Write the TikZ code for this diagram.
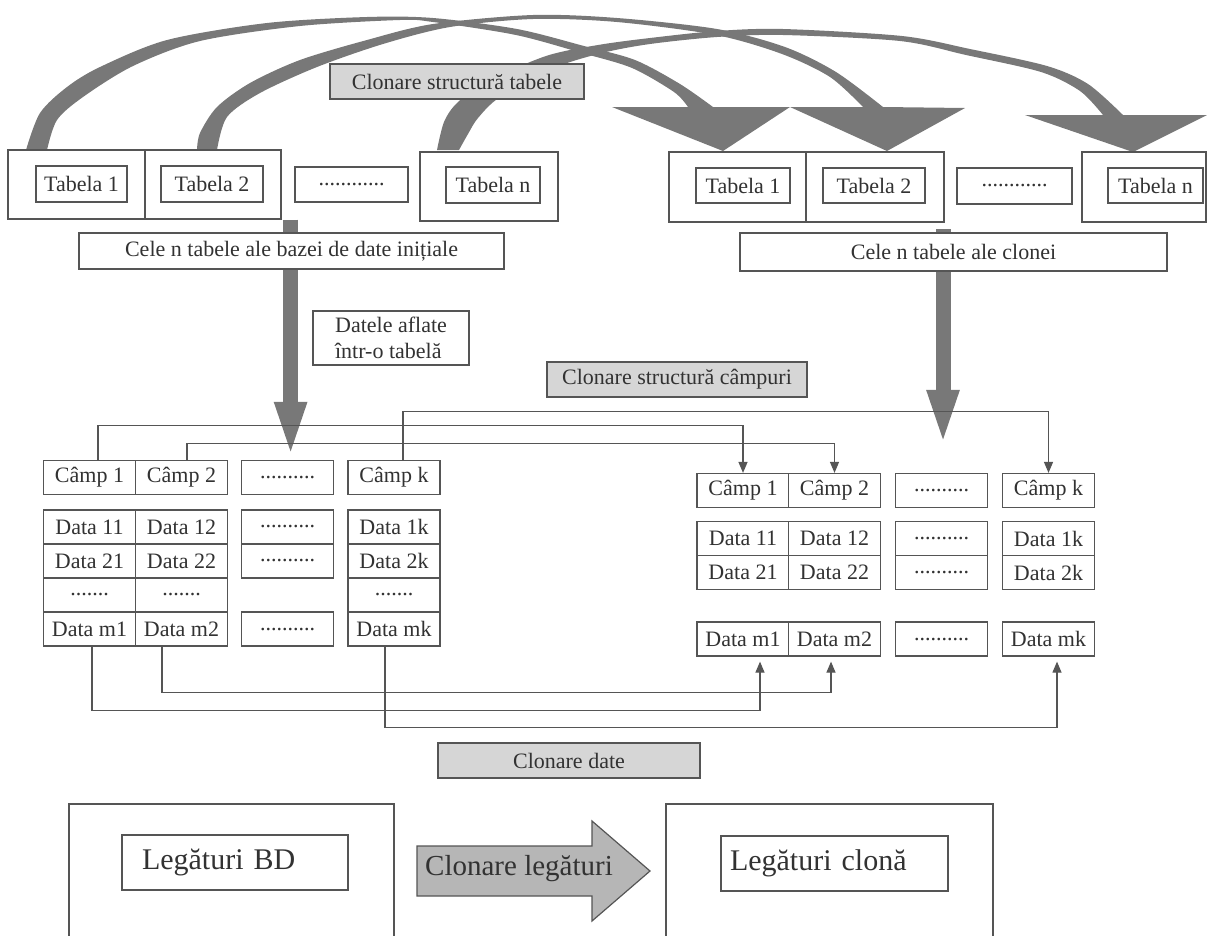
\documentclass[tikz,border=0pt]{standalone}
\usepackage{fontspec}
\setmainfont{Liberation Serif}
\usetikzlibrary{arrows.meta,backgrounds}
\definecolor{cloneLine}{RGB}{85,85,85}
\definecolor{cloneText}{RGB}{50,50,50}
\definecolor{cloneShade}{RGB}{214,214,214}
\definecolor{cloneArc}{RGB}{120,120,120}

\begin{document}
\begin{tikzpicture}[
  x=1pt, y=-1pt,
  box/.style={
    draw=cloneLine,
    line width=1.2pt,
    fill=white,
    inner sep=0pt,
    text=cloneText,
    font=\fontsize{22}{26}\selectfont
  },
  shadebox/.style={box, fill=cloneShade},
  cell/.style={box, minimum width=92pt, minimum height=34pt},
  link/.style={draw=cloneLine, line width=1.2pt, -{Triangle[length=11pt,width=9pt]}},
  fatarrow/.style={draw=cloneArc, line width=15pt, -{Triangle[length=58pt,width=28pt]}},
  bigarc/.style={fill=cloneArc}
]
  \useasboundingbox (0,0) rectangle (1207,935);

  % tables of the source database
  \node[box, minimum width=137pt, minimum height=69pt] (lt1) at (76.5,184.5) {};
  \node[box, minimum width=91pt, minimum height=36pt] (li1) at (81.5,184) {Tabela 1};
  \node[box, minimum width=136pt, minimum height=69pt] (lt2) at (213,184.5) {};
  \node[box, minimum width=102pt, minimum height=36pt] (li2) at (212,184) {Tabela 2};
  \node[box, minimum width=113pt, minimum height=35pt] (ldots) at (351.5,184.5) {............};
  \node[box, minimum width=138pt, minimum height=69pt] (ltn) at (489,186.5) {};
  \node[box, minimum width=94pt, minimum height=36pt] (lin) at (493,185) {Tabela n};
  \node[box, minimum width=425pt, minimum height=36pt] (lcele) at (291.5,251)
    {Cele n tabele ale bazei de date inițiale};

  % tables of the clone
  \node[box, minimum width=137pt, minimum height=70pt] (rt1) at (737.5,187) {};
  \node[box, minimum width=94pt, minimum height=35pt] (ri1) at (743,185.5) {Tabela 1};
  \node[box, minimum width=138pt, minimum height=70pt] (rt2) at (875,187) {};
  \node[box, minimum width=102pt, minimum height=35pt] (ri2) at (874,185.5) {Tabela 2};
  \node[box, minimum width=115pt, minimum height=36pt] (rdots) at (1014.5,186) {............};
  \node[box, minimum width=124pt, minimum height=70pt] (rtn) at (1144,187) {};
  \node[box, minimum width=95pt, minimum height=35pt] (rin) at (1155.5,185.5) {Tabela n};
  \node[box, minimum width=427pt, minimum height=38pt] (rcele) at (953.5,252)
    {Cele n tabele ale clonei};

  \node[box, minimum width=156pt, minimum height=54pt, align=left] (dat) at (391,338)
    {Datele aflate\\într-o tabelă};
  \node[shadebox, minimum width=260pt, minimum height=35pt] (csc) at (677,379.5)
    {Clonare structură câmpuri};

  % fields and data of the source table
  \node[cell] (lh1) at (89.5,477.5) {Câmp 1};
  \node[cell] (lh2) at (181.5,477.5) {Câmp 2};
  \node[cell] (lh3) at (287.5,477.5) {..........};
  \node[cell] (lhk) at (394,477.5) {Câmp k};
  \node[cell] (l11) at (89.5,527) {Data 11};
  \node[cell] (l12) at (181.5,527) {Data 12};
  \node[cell] (l13) at (287.5,527) {..........};
  \node[cell] (l1k) at (394,527) {Data 1k};
  \node[cell] (l21) at (89.5,561) {Data 21};
  \node[cell] (l22) at (181.5,561) {Data 22};
  \node[cell] (l23) at (287.5,561) {..........};
  \node[cell] (l2k) at (394,561) {Data 2k};
  \node[cell] (l31) at (89.5,595) {.......};
  \node[cell] (l32) at (181.5,595) {.......};
  \node[cell] (l3k) at (394,595) {.......};
  \node[cell] (lm1) at (89.5,629) {Data m1};
  \node[cell] (lm2) at (181.5,629) {Data m2};
  \node[cell] (lm3) at (287.5,629) {..........};
  \node[cell] (lmk) at (394,629) {Data mk};

  % fields and data of the clone table
  \node[cell] (rh1) at (743,490.5) {Câmp 1};
  \node[cell] (rh2) at (834.5,490.5) {Câmp 2};
  \node[cell] (rh3) at (941.5,490.5) {..........};
  \node[cell] (rhk) at (1048.5,490.5) {Câmp k};
  \node[cell] (r11) at (743,538.5) {Data 11};
  \node[cell] (r12) at (834.5,538.5) {Data 12};
  \node[cell] (r13) at (941.5,538.5) {..........};
  \node[cell] (r1k) at (1048.5,538.5) {Data 1k};
  \node[cell] (r21) at (743,572.5) {Data 21};
  \node[cell] (r22) at (834.5,572.5) {Data 22};
  \node[cell] (r23) at (941.5,572.5) {..........};
  \node[cell] (r2k) at (1048.5,572.5) {Data 2k};
  \node[cell] (rm1) at (743,639) {Data m1};
  \node[cell] (rm2) at (834.5,639) {Data m2};
  \node[cell] (rm3) at (941.5,639) {..........};
  \node[cell] (rmk) at (1048.5,639) {Data mk};

  \node[shadebox, minimum width=262pt, minimum height=35pt] (cdt) at (569,760.5) {Clonare date};

  % links
  \node[box, minimum width=325pt, minimum height=170pt] (lbig) at (231.5,889) {};
  \node[box, minimum width=226pt, minimum height=55pt, text width=186pt, align=left,
    font=\fontsize{30}{34}\selectfont] (lbd) at (235,862.5) {Legături BD};
  \node[box, minimum width=327pt, minimum height=170pt] (rbig) at (829.5,889) {};
  \node[box, minimum width=227pt, minimum height=55pt, text width=209pt, align=left,
    font=\fontsize{30}{34}\selectfont] (rlc) at (834.5,863.5) {Legături clonă};
  \filldraw[fill=cloneShade!85!black, draw=cloneLine, line width=1.2pt]
    (417,846) -- (592,846) -- (592,821) -- (650,871) -- (592,921) -- (592,896) -- (417,896) -- cycle;
  \node[text=cloneText, font=\fontsize{29}{33}\selectfont, anchor=west, inner sep=0pt] (clg)
    at (425,869) {Clonare legături};

  % field structure and data connectors
  \draw[link] ([xshift=8.5pt]lh1.north) -- ++(0,-34.5) -| (rh1.north);
  \draw[link] ([xshift=5.5pt]lh2.north) -- ++(0,-16.5) -| (rh2.north);
  \draw[link] ([xshift=9pt]lhk.north) -- ++(0,-48.5) -| (rhk.north);
  \draw[link, shorten >=5pt] ([xshift=2.5pt]lm1.south) -- ++(0,64) -| ([xshift=17pt]rm1.south);
  \draw[link, shorten >=5pt] ([xshift=-19.5pt]lm2.south) -- ++(0,46) -| ([xshift=-3.5pt]rm2.south);
  \draw[link, shorten >=5pt] ([xshift=-9pt]lmk.south) -- ++(0,81) -| ([xshift=8.5pt]rmk.south);

  \node[shadebox, minimum width=254pt, minimum height=35pt] (cst) at (457,81.5)
    {Clonare structură tabele};

  \begin{scope}[on background layer]
    \draw[fatarrow] ([xshift=9pt]lt2.south east) -- ([xshift=9pt]lt2.south east |- lh3.north);
    \draw[fatarrow, shorten >=25pt] ([xshift=-10.5pt,yshift=3pt]rcele.north)
      -- ([xshift=-10.5pt]rcele.north |- rh3.north);
    % table structure arcs
    \fill[bigarc] plot[smooth] coordinates {(26,150) (40,113) (67,87) (100,67) (167,40)
        (267,23) (367,17) (433,18) (517,29) (584,46) (635,60) (680,84) (713,107)}
      -- (790,107) -- (723,151) -- (612,107) -- (688,107)
      -- plot[smooth] coordinates {(688,107) (674,92) (632,68) (582,53) (516,35) (433,22)
        (400,20) (300,26) (200,41) (133,66) (83,97) (57,120) (47,150)} -- cycle;
    \fill[bigarc] plot[smooth] coordinates {(197,150) (200,133) (217,107) (250,83) (300,60)
        (367,40) (433,24) (533,15) (617,18) (717,29) (785,47) (836,72) (883,107)}
      -- (965,108) -- (887,151) -- (790,107) -- (863,107)
      -- plot[smooth] coordinates {(863,107) (830,77) (782,54) (716,35) (617,22) (533,19)
        (450,27) (383,44) (317,67) (260,93) (227,117) (217,150)} -- cycle;
    \fill[bigarc] plot[smooth] coordinates {(437,150) (444,122) (457,103) (486,82) (546,56)
        (598,45) (650,38) (717,31) (783,29) (902,36) (970,49) (1047,66) (1088,84) (1123,115)}
      -- (1207,115) -- (1133,152) -- (1025,115) -- (1103,115)
      -- plot[smooth] coordinates {(1103,115) (1080,91) (1041,72) (966,55) (900,41) (783,35)
        (717,37) (650,44) (602,53) (554,68) (500,97) (478,118) (468,134) (459,150)} -- cycle;
  \end{scope}
\end{tikzpicture}
\end{document}
